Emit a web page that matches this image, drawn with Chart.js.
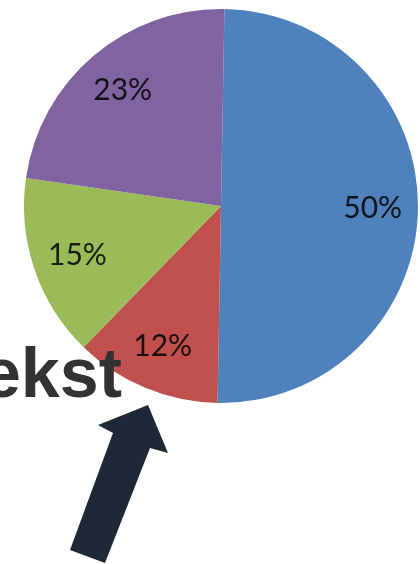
<!DOCTYPE html>
<html>
<head>
<meta charset="utf-8">
<script src="https://cdn.jsdelivr.net/npm/chart.js@4"></script>
<style>
  html, body { margin: 0; padding: 0; background: #fff; }
  #wrap { position: relative; width: 420px; height: 564px; overflow: hidden; }
  #pieBox { position: absolute; left: 24px; top: 9px; width: 394px; height: 394px; }
  #word { position: absolute; right: 298px; top: 338px; font: bold 70px "Liberation Sans", Arial, sans-serif;
          color: #333333; white-space: nowrap; line-height: 1; z-index: 2; }
  #arrow { position: absolute; left: 0; top: 0; z-index: 3; }
</style>
</head>
<body>
<div id="wrap">
  <div id="pieBox"><canvas id="pieChart"></canvas></div>
  <div id="word">Tekst</div>
  <svg id="arrow" width="420" height="564">
    <polygon points="148,405 168,453 150,448 105,563 70,550 113,433 98,425" fill="#1e2837"/>
  </svg>
</div>
<script>
// dane wykresu
const labels = ["A", "B", "C", "D"];
const values = [50, 12, 15, 23];
const colors = ["#4f81bd", "#c0504d", "#9bbb59", "#8064a2"];

// etykiety procentowe na wycinkach
const sliceLabels = {
    id: "sliceLabels",
    afterDatasetsDraw(chart) {
        let ctx = chart.ctx;
        let meta = chart.getDatasetMeta(0);
        let total = values.reduce((a, b) => a + b, 0);
        ctx.save();
        ctx.font = '30px Lato, "Open Sans", sans-serif';
        ctx.fillStyle = "rgba(0,0,0,0.85)";
        ctx.textAlign = "center";
        ctx.textBaseline = "middle";
        meta.data.forEach((arc, i) => {
            let p = arc.getProps(["x", "y", "startAngle", "endAngle", "outerRadius"], true);
            let mid = (p.startAngle + p.endAngle) / 2;
            let r = p.outerRadius * 0.77;
            let txt = Math.round(values[i] / total * 100) + "%";
            ctx.fillText(txt, p.x + Math.cos(mid) * r, p.y + Math.sin(mid) * r);
        });
        ctx.restore();
    }
};

new Chart(document.getElementById("pieChart"), {
    type: "pie",
    data: {
        labels: labels,
        datasets: [{
            data: values,
            backgroundColor: colors,
            borderWidth: 0
        }]
    },
    options: {
        responsive: true,
        maintainAspectRatio: false,
        animation: false,
        rotation: 1,
        layout: { padding: 0 },
        plugins: {
            legend: { display: false },
            tooltip: { enabled: false }
        }
    },
    plugins: [sliceLabels]
});
</script>
</body>
</html>
